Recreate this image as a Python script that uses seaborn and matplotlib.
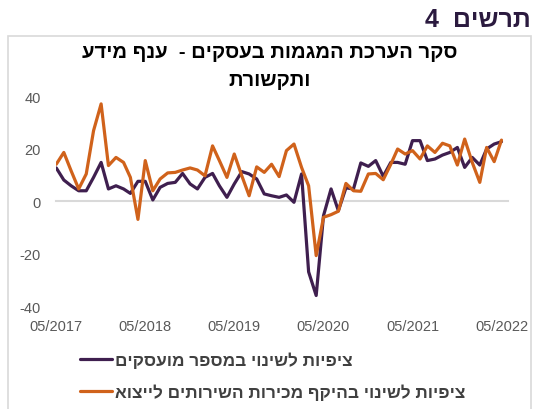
import pandas as pd
import seaborn as sns
import matplotlib.pyplot as plt
import matplotlib.dates as mdates
from matplotlib.patches import Rectangle

# monthly survey balances, 05/2017 - 05/2022
months = pd.date_range('2017-05-01', '2022-05-01', freq='MS')
employees = [12.6, 8, 5.8, 3.9, 3.9, 9, 14.7, 4.6, 5.8, 4.6, 2.9, 7.5, 7.5, 0.4,
             5.2, 6.7, 7.1, 10.5, 6.5, 4.6, 9, 10.5, 5.8, 1.4, 6.5, 11.2, 10.3,
             8.4, 2.7, 2, 1.4, 2.3, -0.5, 10.3, -27, -36, -5.6, 4.6, -3.7, 5,
             4.6, 14.5, 13.2, 15.4, 9.4, 14.7, 14.7, 14, 23, 23, 15.4, 16, 17.5,
             18.5, 20.4, 12.8, 16.6, 13.7, 19.8, 21.7, 22.6]
exports = [14, 18.5, 11.5, 4.6, 10.3, 26.8, 37, 13.5, 16.6, 14.7, 9, -7, 15.4,
           3.9, 8.4, 10.7, 10.9, 11.8, 12.6, 11.8, 9.6, 21, 15.4, 9, 17.9, 9.6,
           2, 13, 10.9, 14, 9.3, 19.2, 21.7, 12.8, 5.8, -20.8, -6.2, -5.2, -3.9,
           6.7, 3.9, 3.7, 10.3, 10.5, 8.1, 14, 19.8, 17.9, 19.2, 16, 21, 18.5,
           22, 21, 13.7, 23.6, 14.7, 7.1, 20.4, 15, 23.2]

series_names = ['ציפיות לשינוי במספר מועסקים',
                'ציפיות לשינוי בהיקף מכירות השירותים לייצוא']
colors = ['#3f1f4f', '#d0621b']
chart_no = 'תרשים  4'
title_lines = ['סקר הערכת המגמות בעסקים -  ענף מידע', 'ותקשורת']
y_ticks = [-40, -20, 0, 20, 40]
x_ticks = pd.to_datetime(['2017-05-01', '2018-05-01', '2019-05-01',
                          '2020-05-01', '2021-05-01', '2022-05-01'])


def rtl(s):
    # matplotlib has no bidi support, so flip hebrew to visual order
    return s[::-1]


df = pd.DataFrame({
    'month': list(months) * 2,
    'value': employees + exports,
    'series': [rtl(series_names[0])] * len(months) + [rtl(series_names[1])] * len(months),
})

sns.set_style('white')
plt.rcParams['font.family'] = ['Liberation Sans', 'DejaVu Sans']
plt.rcParams['axes.unicode_minus'] = False

fig = plt.figure(figsize=(5.37, 4.10), dpi=100)
ax = fig.add_axes([0.1043, 0.2512, 0.8423, 0.5122])

# light frame around chart body
fig.patches.append(Rectangle((8 / 537, -0.05), 523 / 537, 1 - 37 / 410 + 0.05,
                             transform=fig.transFigure, fill=False,
                             edgecolor='#d9d9d9', lw=1.2, zorder=0))

sns.lineplot(data=df, x='month', y='value', hue='series',
             palette=[colors[0], colors[1]], linewidth=2.3, ax=ax,
             legend=True)

ax.set_ylim(-40, 40)
ax.set_xlim(pd.Timestamp('2017-04-30'), pd.Timestamp('2022-05-29'))
ax.set_yticks(y_ticks)
ax.set_xticks(x_ticks)
ax.xaxis.set_major_formatter(mdates.DateFormatter('%m/%Y'))
ax.set_xlabel('')
ax.set_ylabel('')

for side in ['top', 'right', 'left']:
    ax.spines[side].set_visible(False)
ax.spines['bottom'].set_position(('data', 0))
ax.spines['bottom'].set_color('#d9d9d9')
ax.spines['bottom'].set_linewidth(1.5)
ax.spines['bottom'].set_zorder(0)
ax.tick_params(axis='x', direction='out', length=4, width=1, color='#d9d9d9',
               pad=81, labelsize=10.5, labelcolor='#595959')
ax.tick_params(axis='y', length=0, pad=11, labelsize=10.5, labelcolor='#595959')
ax.grid(False)

handles, labels = ax.get_legend_handles_labels()
ax.get_legend().remove()
fig.legend(handles, labels, loc='upper left', bbox_to_anchor=(64 / 537, 1 - 337 / 410),
           frameon=False, handlelength=1.9, handletextpad=0.15, labelspacing=0.9,
           prop={'weight': 'bold', 'size': 12.4}, labelcolor='#404040')

fig.text(531 / 537, 1 - 20 / 410, rtl(chart_no), ha='right', va='center',
         fontsize=18, fontweight='bold', color='#2b1a3f')
for i, line in enumerate(title_lines):
    fig.text(270 / 537, 1 - (52 + 29 * i) / 410, rtl(line), ha='center',
             va='center', fontsize=14.6, fontweight='bold', color='black')

fig.savefig('out.png', dpi=100)
